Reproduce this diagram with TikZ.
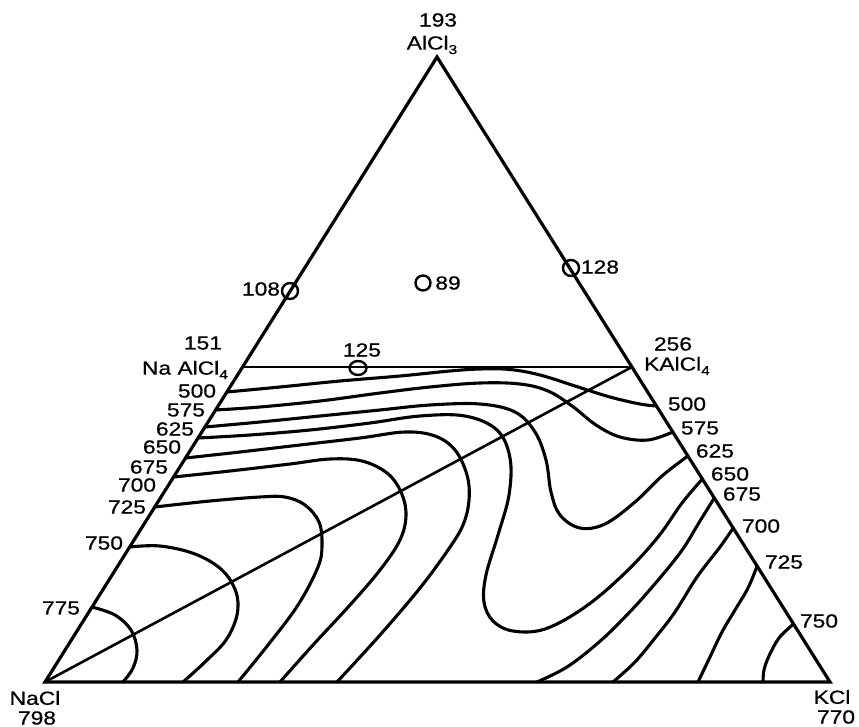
\documentclass[tikz,border=0pt]{standalone}
\usepackage{fontspec}
\newfontfamily\lblfont[FakeStretch=1.2, FakeBold=0.6]{Liberation Sans}
\usetikzlibrary{calc}
\newcommand{\subsc}[1]{\raisebox{-0.45ex}{\fontsize{13}{13}\selectfont #1}}
\begin{document}
\begin{tikzpicture}[x=1pt,y=-1pt,
  lbl/.style={font=\lblfont\fontsize{19}{19}\selectfont, inner sep=0pt, anchor=center},
  iso/.style={line width=3.1pt, line join=round, line cap=round},
  edgeline/.style={line width=3.2pt, line join=miter},
  tie/.style={line width=2.6pt},
  ptmark/.style={line width=2.4pt}]
\useasboundingbox (0,0) rectangle (859,727);

% vertices
\coordinate (N) at (45,682);
\coordinate (K) at (830,682);
\coordinate (A) at (437,57);
\coordinate (NA) at ($(N)!0.504!(A)$);
\coordinate (KA) at ($(K)!0.504!(A)$);

% triangle and tie lines
\draw[edgeline] (N) -- (A) -- (K) -- cycle;
\draw[tie] (NA) -- (KA);
\draw[tie] (N) -- (KA);

% isotherms, left edge to right edge
\draw[iso] plot[smooth, tension=0.6] coordinates {(226.9,392) (280,387) (340,381) (400,376) (450,371) (480,369) (510,369.5) (540,375) (575,386) (610,397) (640,404) (656.5,406)};
\draw[iso] plot[smooth, tension=0.6] coordinates {(215.6,410) (260,407) (320,401) (380,393) (430,387) (480,383) (520,384) (548,391) (572,406) (596,425) (620,437) (648,440) (672.8,432)};
\draw[iso] plot[smooth, tension=0.6] coordinates {(204.9,427) (260,422) (320,416) (380,410) (430,405) (480,404) (515,412) (535,432) (546,460) (551,492) (560,515) (580,528) (605,524) (635,502) (662,476) (687.9,456)};
\draw[iso] plot[smooth, tension=0.6] coordinates {(198,438) (250,435) (310,430) (370,423) (420,416) (465,416) (497,430) (510,458) (509,495) (498,535) (486,575) (484,602) (493,621) (513,631) (545,629) (585,607) (625,573) (658,537) (682,503) (702.4,479)};

% isotherms, left edge to base
\draw[iso] plot[smooth, tension=0.6] coordinates {(185.5,458) (240,452) (300,445) (360,438) (405,432) (435,436) (455,450) (467,475) (469,500) (463,525) (448,550) (420,588) (380,635) (337,682)};
\draw[iso] plot[smooth, tension=0.6] coordinates {(173.6,477) (230,471) (290,464) (330,459) (362,461) (387,473) (401,492) (406,515) (400,540) (380,570) (350,605) (313,645) (280,682)};
\draw[iso] plot[smooth, tension=0.6] coordinates {(154.8,507) (210,501) (260,497) (285,497) (305,505) (319,522) (322,545) (318,567) (298,605) (268,645) (238,682)};
\draw[iso] plot[smooth, tension=0.6] coordinates {(129.7,547) (160,546) (195,554) (222,570) (236,592) (237,615) (226,640) (205,662) (183,682)};
\draw[iso] plot[smooth, tension=0.6] coordinates {(92,607) (115,615) (131,630) (137,650) (133,668) (123,682)};

% isotherms, right edge to base
\draw[iso] plot[smooth, tension=0.6] coordinates {(714.3,498) (700,521) (680,553) (647,593) (622,620) (598,643) (567,667) (537,682)};
\draw[iso] plot[smooth, tension=0.6] coordinates {(733.2,528) (720,547) (697,577) (675,612) (655,638) (635,662) (613,682)};
\draw[iso] plot[smooth, tension=0.6] coordinates {(757.1,566) (748,588) (735,610) (722,632) (710,657) (698,682)};
\draw[iso] plot[smooth, tension=0.6] coordinates {(793.5,624) (779,638) (769,656) (764,670) (763,682)};

% data points
\draw[ptmark] (290,291) circle [radius=8pt];
\draw[ptmark] (423,283) circle [radius=7.5pt];
\draw[ptmark] (571,268) circle [radius=8pt];
\draw[ptmark] (358,368) ellipse [x radius=8.5pt, y radius=7pt];

% labels: vertices and compounds
\node[lbl] (t193) at (438,20) {193};
\node[lbl] (tAlCl) at (432,45) {AlCl\subsc{3}};
\node[lbl] (t151) at (203,343) {151};
\node[lbl] (tNaAl) at (185,370) {Na AlCl\subsc{4}};
\node[lbl] (t256) at (673,344) {256};
\node[lbl] (tKAl) at (677,366) {KAlCl\subsc{4}};
\node[lbl] (tNaCl) at (35,698) {NaCl};
\node[lbl] (t798) at (37,718) {798};
\node[lbl] (tKCl) at (832,697) {KCl};
\node[lbl] (t770) at (836,717) {770};

% labels: points
\node[lbl] (t108) at (261,289) {108};
\node[lbl] (t89) at (448,283) {89};
\node[lbl] (t128) at (600,267) {128};
\node[lbl] (t125) at (362,350) {125};

% labels: left edge
\node[lbl] (l500) at (197,391) {500};
\node[lbl] (l575) at (186,410) {575};
\node[lbl] (l625) at (175,429) {625};
\node[lbl] (l650) at (162,447) {650};
\node[lbl] (l675) at (149,467) {675};
\node[lbl] (l700) at (137,485) {700};
\node[lbl] (l725) at (127,507) {725};
\node[lbl] (l750) at (104,543) {750};
\node[lbl] (l775) at (61,608) {775};

% labels: right edge
\node[lbl] (r500) at (687,404) {500};
\node[lbl] (r575) at (700,428) {575};
\node[lbl] (r625) at (715,451) {625};
\node[lbl] (r650) at (730,474) {650};
\node[lbl] (r675) at (742,494) {675};
\node[lbl] (r700) at (761,526) {700};
\node[lbl] (r725) at (784,562) {725};
\node[lbl] (r750) at (819,621) {750};
\end{tikzpicture}
\end{document}
